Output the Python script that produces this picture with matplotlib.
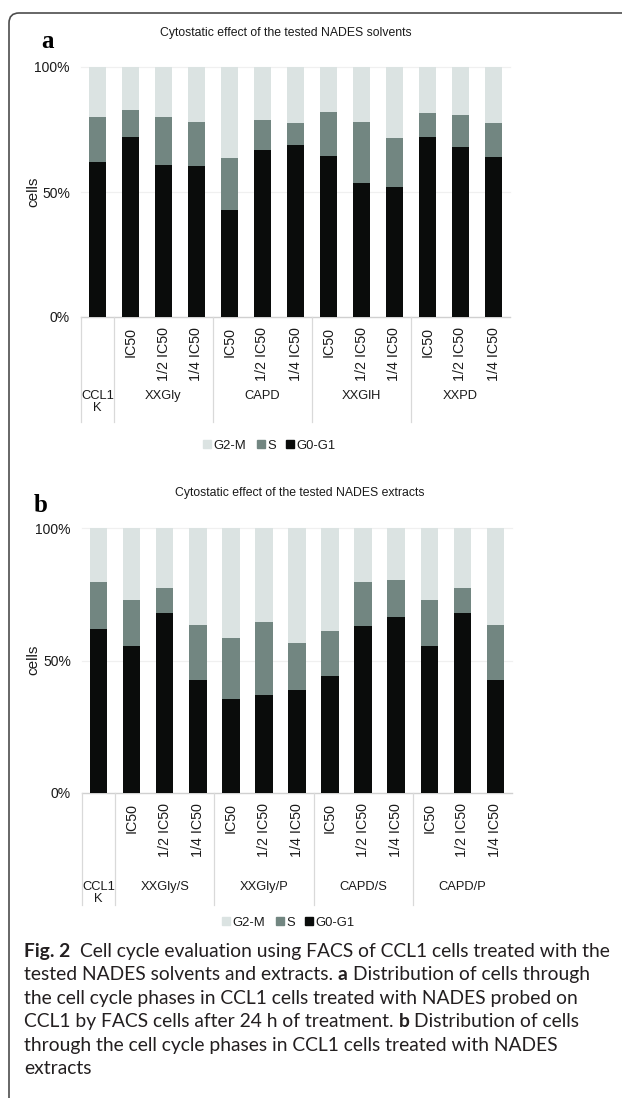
import matplotlib
matplotlib.use("Agg")
import matplotlib.pyplot as plt
from matplotlib import font_manager
from matplotlib.path import Path
from matplotlib.patches import PathPatch
from matplotlib.lines import Line2D

W, H, DPI = 622, 1098, 100

# ---------------- data ----------------
phases = ["G2-M", "S", "G0-G1"]
dose_labels = ["IC50", "1/2 IC50", "1/4 IC50"]
control_label = "CCL1\nK"

solvent_groups = ["XXGly", "CAPD", "XXGlH", "XXPD"]
solvent_g0g1 = [62, 72, 61, 60.5, 43, 67, 69, 64.5, 53.5, 52, 72, 68, 64]
solvent_s = [18, 11, 19, 17.5, 20.5, 12, 8.5, 17.5, 24.5, 19.5, 9.5, 13, 13.5]
solvent_g2m = [20, 17, 20, 22, 36.5, 21, 22.5, 18, 22, 28.5, 18.5, 19, 22.5]

extract_groups = ["XXGly/S", "XXGly/P", "CAPD/S", "CAPD/P"]
extract_g0g1 = [62, 55.5, 68, 42.5, 35.5, 37, 39, 44, 63, 66.5, 55.5, 68, 42.5]
extract_s = [17.5, 17.5, 9.5, 21, 23, 27.5, 17.5, 17, 16.5, 14, 17.5, 9.5, 21]
extract_g2m = [20.5, 27, 22.5, 36.5, 41.5, 35.5, 43.5, 39, 20.5, 19.5, 27, 22.5, 36.5]

y_ticks = [0, 50, 100]
y_tick_labels = ["0%", "50%", "100%"]

# ---------------- style ----------------
C_G2M = "#dbe3e2"
C_S = "#728681"
C_G0 = "#0a0c0b"
TXT = "#1a1a1a"


def pick(*names):
    avail = {f.name for f in font_manager.fontManager.ttflist}
    for n in names:
        if n in avail:
            return n
    return "DejaVu Sans"


NARROW = pick("Liberation Sans Narrow", "Liberation Sans")
SANS = pick("Liberation Sans", "DejaVu Sans")
SERIF = pick("Liberation Serif", "DejaVu Serif")
CAPF = pick("Lato", "Open Sans", "Noto Sans")
narrow_ok = NARROW != SANS

# horizontal chart text sizes (narrow face if present, else scaled-down regular face)
S_TITLE = 10 if narrow_ok else 8.8
S_YTICK = 11 if narrow_ok else 10
S_GROUP = 10.5 if narrow_ok else 9.3
S_LEG = 10.5 if narrow_ok else 9.4

fig = plt.figure(figsize=(W / DPI, H / DPI), dpi=DPI)
fig.patch.set_facecolor("white")


def fx(x):
    return x / W


def fy(y):
    return 1 - y / H


def panel(left, right, top, bottom, g0, s, g2m, groups, title, title_xy,
          letter_xy, ylabel_xy, group_y, legend_xy):
    ax = fig.add_axes([fx(left), fy(bottom), (right - left) / W, (bottom - top) / H])
    n = len(g0)
    xs = list(range(n))
    bw = 0.53
    bot_s = [a for a in g0]
    bot_g = [a + b for a, b in zip(g0, s)]
    ax.bar(xs, g0, bw, color=C_G0, zorder=3, label=phases[2])
    ax.bar(xs, s, bw, bottom=bot_s, color=C_S, zorder=3, label=phases[1])
    ax.bar(xs, g2m, bw, bottom=bot_g, color=C_G2M, zorder=3, label=phases[0])
    ax.set_xlim(-0.5, n - 0.5)
    ax.set_ylim(0, 100)
    for sp in ax.spines.values():
        sp.set_visible(False)
    ax.axhline(0, color="#d0d0d0", lw=1.0, zorder=2, clip_on=False)
    for yv in y_ticks[1:]:
        ax.axhline(yv, color="#f0f0f0", lw=0.9, zorder=1, clip_on=False)
    ax.set_yticks(y_ticks)
    ax.set_yticklabels(y_tick_labels, family=NARROW, fontsize=S_YTICK, color=TXT)
    ax.tick_params(axis="y", length=0, pad=8)
    ticklabels = [""] + dose_labels * len(groups)
    ax.set_xticks(xs)
    ax.set_xticklabels(ticklabels, rotation=90, family=SANS, fontsize=10.3, color=TXT)
    ax.tick_params(axis="x", length=0, pad=7)

    # group separators below the axis
    sep_depth = group_y[1]
    for xb in [-0.5, 0.5, 3.5, 6.5, 9.5]:
        ax.add_line(Line2D([xb, xb], [0, sep_depth], transform=ax.get_xaxis_transform(),
                           color="#d9d9d9", lw=0.9, clip_on=False))
    # group labels
    gy = group_y[0]
    ax.text(0, gy, control_label, transform=ax.get_xaxis_transform(), ha="center",
            va="top", family=NARROW, fontsize=S_GROUP, color=TXT, linespacing=1.0)
    for i, g in enumerate(groups):
        ax.text(2 + 3 * i, gy, g, transform=ax.get_xaxis_transform(), ha="center",
                va="top", family=NARROW, fontsize=S_GROUP, color=TXT)

    fig.text(fx(title_xy[0]), fy(title_xy[1]), title, ha="center", va="center",
             family=NARROW, fontsize=S_TITLE, color=TXT)
    fig.text(fx(letter_xy[0]), fy(letter_xy[1]), letter_xy[2], ha="center", va="center",
             family=SERIF, fontweight="bold", fontsize=18, color="black")
    fig.text(fx(ylabel_xy[0]), fy(ylabel_xy[1]), "cells", ha="center", va="center",
             rotation=90, family=SANS, fontsize=11, color=TXT)

    handles = [Line2D([], [], marker="s", ls="none", markersize=6, color=c, label=l)
               for c, l in zip([C_G2M, C_S, C_G0], phases)]
    fig.legend(handles=handles, loc="center", ncol=3, frameon=False,
               bbox_to_anchor=(fx(legend_xy[0]), fy(legend_xy[1])),
               prop={"family": NARROW, "size": S_LEG}, handletextpad=0.0,
               columnspacing=0.6, handlelength=1.0, labelcolor=TXT)
    return ax


panel(81, 510, 67, 317, solvent_g0g1, solvent_s, solvent_g2m, solvent_groups,
      "Cytostatic effect of the tested NADES solvents", (286, 33), (47, 41, "a"),
      (33, 192), (-(390 - 317) / 250, -(422 - 317) / 250), (268, 446))

panel(82, 512, 528, 793, extract_g0g1, extract_s, extract_g2m, extract_groups,
      "Cytostatic effect of the tested NADES extracts", (300, 493), (41, 505, "b"),
      (33, 660), (-(881 - 793) / 265, -(905 - 793) / 265), (287, 923))

# frame: top rule with rounded corner continuing down the left side
r = 10
verts = [(W, 13), (9 + r, 13), (9, 13), (9, 13 + r), (9, H)]
codes = [Path.MOVETO, Path.LINETO, Path.CURVE3, Path.CURVE3, Path.LINETO]
frame = Path([(fx(x), fy(y)) for x, y in verts], codes)
fig.patches.append(PathPatch(frame, transform=fig.transFigure, fill=False,
                             edgecolor="#4d4d4d", lw=1.2))

# ---------------- caption ----------------
caption_lines = [
    [("Fig. 2", True), ("Cell cycle evaluation using FACS of CCL1 cells treated with the", False)],
    [("tested NADES solvents and extracts.", False), ("a", True),
     ("Distribution of cells through", False)],
    [("the cell cycle phases in CCL1 cells treated with NADES probed on", False)],
    [("CCL1 by FACS cells after 24 h of treatment.", False), ("b", True),
     ("Distribution of cells", False)],
    [("through the cell cycle phases in CCL1 cells treated with NADES", False)],
    [("extracts", False)],
]

renderer = fig.canvas.get_renderer()


def width_of(text, size, bold):
    t = fig.text(0, 0, text, fontsize=size, family=CAPF,
                 fontweight="bold" if bold else "normal")
    w = t.get_window_extent(renderer).width
    t.remove()
    return w


def gap_count(parts, i):
    return 2 if i == 1 and parts[0][0].startswith("Fig") else 1


def line_width(parts, size):
    sp = width_of("x x", size, False) - width_of("xx", size, False)
    total = 0
    for i, (txt, b) in enumerate(parts):
        total += width_of(txt, size, b)
        if i:
            total += sp * gap_count(parts, i)
    return total


cap_left = 24
target = 611 - cap_left
size = 10 * target / line_width(caption_lines[0], 10)
space = width_of("x x", size, False) - width_of("xx", size, False)

base0, step = 957, 23.4
for k, parts in enumerate(caption_lines):
    x = cap_left
    for i, (txt, b) in enumerate(parts):
        if i:
            x += space * gap_count(parts, i)
        t = fig.text(fx(x), fy(base0 + k * step), txt, fontsize=size, family=CAPF,
                     fontweight="bold" if b else "normal", ha="left", va="baseline",
                     color="#231f20")
        x += t.get_window_extent(renderer).width

fig.savefig("out.png", dpi=DPI)
